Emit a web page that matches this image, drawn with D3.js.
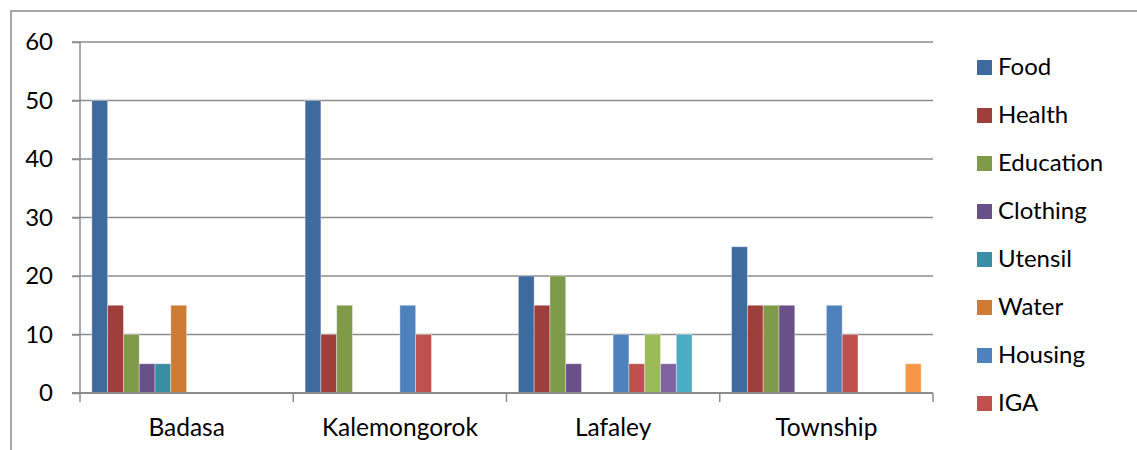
<!DOCTYPE html>
<html>
<head>
<meta charset="utf-8">
<script src="https://cdn.jsdelivr.net/npm/d3@7"></script>
<style>
  html, body { margin: 0; padding: 0; background: #ffffff; }
  svg { display: block; }
  text { font-family: Lato, "Open Sans", sans-serif; fill: #000; }
</style>
</head>
<body>
<svg id="chart" width="1137" height="450"></svg>
<script>
// ---- data ----
const categories = ["Badasa", "Kalemongorok", "Lafaley", "Township"];
const seriesNames = ["Food", "Health", "Education", "Clothing", "Utensil", "Water",
                     "Housing", "IGA", "Series 9", "Series 10", "Series 11", "Series 12"];
const legendCount = 8; // only the first 8 legend entries fit in the picture
const food      = [50, 50, 20, 25];
const health    = [15, 10, 15, 15];
const education = [10, 15, 20, 15];
const clothing  = [5, 0, 5, 15];
const utensil   = [5, 0, 0, 0];
const water     = [15, 0, 0, 0];
const housing   = [0, 15, 10, 15];
const iga       = [0, 10, 5, 10];
const series9   = [0, 0, 10, 0];
const series10  = [0, 0, 5, 0];
const series11  = [0, 0, 10, 0];
const series12  = [0, 0, 0, 5];
const seriesValues = [food, health, education, clothing, utensil, water,
                      housing, iga, series9, series10, series11, series12];
const yTicks = [0, 10, 20, 30, 40, 50, 60];
const colors = ["#3F6A9E", "#9E3F3C", "#7F9A48", "#6A5088", "#3A8EA4", "#CD7B35",
                "#4F81BD", "#C0504D", "#9BBB59", "#8064A2", "#4BACC6", "#F79646"];

// ---- layout ----
const svg = d3.select("#chart");
const plot = { left: 80, right: 933, top: 42, bottom: 393 };
const gridColor = "#8C8C8C";
const FONT = "Lato, 'Open Sans', sans-serif";

// outer frame
svg.append("rect")
  .attr("x", 11).attr("y", 11)
  .attr("width", 1200).attr("height", 500)
  .attr("fill", "none").attr("stroke", gridColor).attr("stroke-width", 1.5);

const y = d3.scaleLinear().domain([0, 60]).range([plot.bottom, plot.top]);
const x0 = d3.scaleBand().domain(categories).range([plot.left, plot.right]).padding(0);
const x1 = d3.scaleBand().domain(d3.range(seriesNames.length))
  .range([0, x0.bandwidth()]).paddingInner(0).paddingOuter(0.75);

// gridlines
svg.append("g").selectAll("line").data(yTicks.filter(t => t > 0)).join("line")
  .attr("x1", plot.left - 8).attr("x2", plot.right)
  .attr("y1", d => y(d)).attr("y2", d => y(d))
  .attr("stroke", gridColor).attr("stroke-width", 1.5);

// y axis
const yAxis = d3.axisLeft(y).tickValues(yTicks).tickSize(8).tickPadding(19);
const yg = svg.append("g").attr("transform", `translate(${plot.left},0)`).call(yAxis);
yg.select(".domain").remove();
yg.selectAll(".tick line").attr("stroke", gridColor).attr("stroke-width", 1.5);
yg.selectAll(".tick text")
  .style("font-size", "24px").style("font-family", FONT).attr("fill", "#000");
svg.append("line")
  .attr("x1", plot.left).attr("x2", plot.left)
  .attr("y1", plot.top).attr("y2", plot.bottom + 9)
  .attr("stroke", gridColor).attr("stroke-width", 1.5);

// bars
const groups = svg.append("g").selectAll("g").data(categories).join("g")
  .attr("transform", d => `translate(${x0(d)},0)`);
groups.selectAll("rect")
  .data((c, ci) => seriesValues.map((vals, si) => ({ si, v: vals[ci] })).filter(d => d.v > 0))
  .join("rect")
  .attr("x", d => x1(d.si))
  .attr("width", x1.bandwidth())
  .attr("y", d => y(d.v))
  .attr("height", d => y(0) - y(d.v))
  .attr("fill", d => colors[d.si])
  .attr("stroke", "rgba(255,255,255,0.45)")
  .attr("stroke-width", 0.8);

// x axis
svg.append("line")
  .attr("x1", plot.left - 8).attr("x2", plot.right)
  .attr("y1", plot.bottom).attr("y2", plot.bottom)
  .attr("stroke", gridColor).attr("stroke-width", 2);
const xAxis = d3.axisBottom(x0).tickSize(0).tickPadding(26);
const xg = svg.append("g").attr("transform", `translate(0,${plot.bottom})`).call(xAxis);
xg.select(".domain").remove();
xg.selectAll(".tick text")
  .style("font-size", "24.5px").style("font-family", FONT).attr("fill", "#000");
const catEdges = categories.map(c => x0(c)).concat([plot.right]);
svg.append("g").selectAll("line").data(catEdges.slice(1)).join("line")
  .attr("x1", d => d).attr("x2", d => d)
  .attr("y1", plot.bottom).attr("y2", plot.bottom + 9)
  .attr("stroke", gridColor).attr("stroke-width", 1.5);

// legend
const legend = svg.append("g").attr("transform", "translate(977,67)");
const items = legend.selectAll("g").data(seriesNames.slice(0, legendCount)).join("g")
  .attr("transform", (d, i) => `translate(0,${i * 48})`);
items.append("rect").attr("x", 0).attr("y", -7).attr("width", 15).attr("height", 15)
  .attr("fill", (d, i) => colors[i]);
items.append("text").attr("x", 21).attr("y", 0).attr("dy", "0.35em")
  .style("font-size", "24px").style("font-family", FONT).text(d => d);
</script>
</body>
</html>
